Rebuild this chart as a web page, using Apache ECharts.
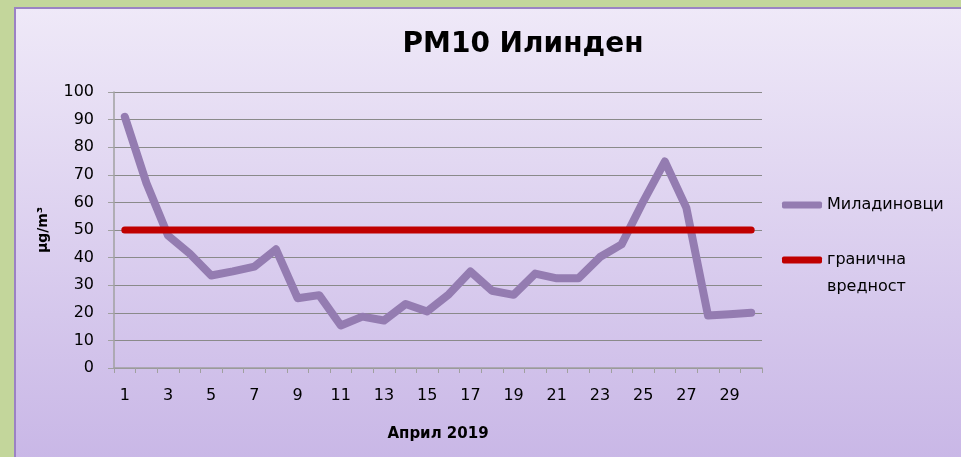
<!DOCTYPE html>
<html>
<head>
<meta charset="utf-8">
<script src="https://cdn.jsdelivr.net/npm/echarts@6/dist/echarts.min.js"></script>
<style>
html,body{margin:0;padding:0;background:#c3d69b;}
#c{width:961px;height:457px;}
</style>
</head>
<body>
<div id="c"></div>
<script>
const days = ['1','2','3','4','5','6','7','8','9','10','11','12','13','14','15','16','17','18','19','20','21','22','23','24','25','26','27','28','29','30'];
const miladinovci = [91, 67, 48, 41.5, 33.5, 35, 36.7, 43, 25.3, 26.4, 15.4, 18.6, 17.2, 23.2, 20.5, 26.7, 35, 28, 26.5, 34.2, 32.5, 32.5, 40.2, 44.8, 60.3, 74.8, 58, 19, 19.5, 20];
const limit = [50,50,50,50,50,50,50,50,50,50,50,50,50,50,50,50,50,50,50,50,50,50,50,50,50,50,50,50,50,50];
const yTicks = { min: 0, max: 100, interval: 10 };

const FONT = 'DejaVu Sans';
const chart = echarts.init(document.getElementById('c'), null, {renderer: 'canvas'});
chart.setOption({
  backgroundColor: '#c3d69b',
  animation: false,
  graphic: [{
    type: 'rect', z: -10, silent: true,
    shape: {x: 15, y: 8, width: 960, height: 460},
    style: {
      fill: new echarts.graphic.LinearGradient(0, 0, 0, 1, [
        {offset: 0, color: '#efe9f8'}, {offset: 1, color: '#c8b6e6'}
      ]),
      stroke: '#9b82c4', lineWidth: 2
    }
  }],
  title: {
    text: 'PM10 Илинден',
    left: 518, top: 26, textAlign: 'center',
    textStyle: {fontFamily: FONT, fontWeight: 'bold', fontSize: 28, color: '#000'}
  },
  grid: {left: 114, right: 199, top: 92, bottom: 89, containLabel: false},
  legend: {
    orient: 'vertical', left: 782, top: 191.5, itemGap: 1, padding: 0,
    itemWidth: 40, itemHeight: 7, icon: 'roundRect',
    textStyle: {fontFamily: FONT, fontSize: 16, color: '#000', lineHeight: 27},
    formatter: function (n) {
      return n.indexOf(' ') >= 0 ? '\u00a0\n' + n.replace(' ', '\n') : n;
    },
    data: ['Миладиновци', 'гранична вредност']
  },
  xAxis: {
    type: 'category', data: days, boundaryGap: true,
    name: 'Април 2019', nameLocation: 'middle', nameGap: 59,
    nameTextStyle: {fontFamily: FONT, fontWeight: 'bold', fontSize: 15, color: '#000'},
    axisLine: {lineStyle: {color: '#a0a0a0', width: 1.5}},
    axisTick: {show: true, length: 5, interval: 0, lineStyle: {color: '#a0a0a0'}},
    axisLabel: {interval: 1, margin: 20, fontFamily: FONT, fontSize: 16, color: '#000'},
    splitLine: {show: false}
  },
  yAxis: {
    type: 'value', min: yTicks.min, max: yTicks.max, interval: yTicks.interval,
    name: 'µg/m³', nameLocation: 'middle', nameGap: 64, nameRotate: 90,
    nameTextStyle: {fontFamily: FONT, fontWeight: 'bold', fontSize: 14, color: '#000'},
    axisLine: {show: true, lineStyle: {color: '#a0a0a0', width: 1.5}},
    axisTick: {show: true, length: 6, lineStyle: {color: '#a0a0a0'}},
    axisLabel: {margin: 20, fontFamily: FONT, fontSize: 16, color: '#000'},
    splitLine: {lineStyle: {color: '#8a8a8a', width: 1.2}}
  },
  series: [
    {
      name: 'Миладиновци', type: 'line', data: miladinovci,
      symbol: 'none', color: '#947cb1',
      lineStyle: {width: 8, color: '#947cb1', cap: 'round', join: 'round'},
      z: 2
    },
    {
      name: 'гранична вредност', type: 'line', data: limit,
      symbol: 'none', color: '#c00000',
      lineStyle: {width: 7, color: '#c00000', cap: 'round'},
      z: 3
    }
  ]
});
</script>
</body>
</html>
